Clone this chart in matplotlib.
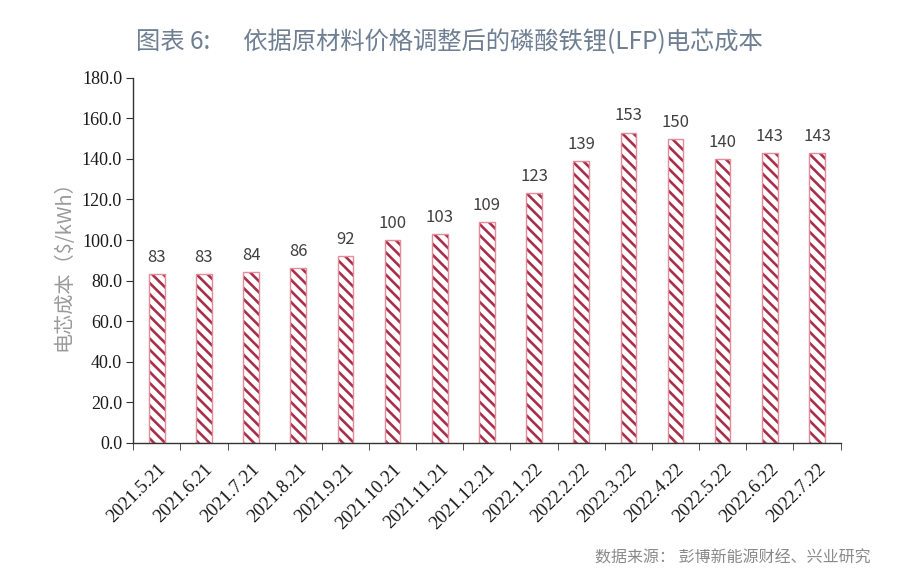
import matplotlib.pyplot as plt
import numpy as np

plt.rcParams['font.family'] = ['Noto Sans CJK SC', 'DejaVu Sans']
plt.rcParams['hatch.linewidth'] = 1.9

# data
dates = ['2021.5.21', '2021.6.21', '2021.7.21', '2021.8.21', '2021.9.21',
         '2021.10.21', '2021.11.21', '2021.12.21', '2022.1.22', '2022.2.22',
         '2022.3.22', '2022.4.22', '2022.5.22', '2022.6.22', '2022.7.22']
cost = [83, 83, 84, 86, 92, 100, 103, 109, 123, 139, 153, 150, 140, 143, 143]

stripe = '#a82f4a'
edge = '#e58c9a'
serif = ['Liberation Serif', 'DejaVu Serif']

fig = plt.figure(figsize=(9, 5.81), dpi=100)
ax = fig.add_axes([0.148, 0.238, 0.786, 0.628])

x = np.arange(len(dates))
# hatched fill, then outline on top
ax.bar(x, cost, width=0.33, color='white', edgecolor=stripe, linewidth=0, hatch='\\\\\\')
ax.bar(x, cost, width=0.33, fill=False, edgecolor=edge, linewidth=1.0)

for xi, v in zip(x, cost):
    ax.text(xi, v + 4, str(v), ha='center', va='bottom', fontsize=12, color='#404040')

ax.set_xlim(-0.5, len(dates) - 0.5)
ax.set_ylim(0, 180)
ax.set_yticks(np.arange(0, 181, 20))
ax.set_yticklabels(['%.1f' % t for t in np.arange(0, 181, 20)])
ax.set_xticks(x)
ax.set_xticklabels(dates, rotation=45, ha='right', rotation_mode='anchor')
ax.set_xticks(np.arange(-0.5, len(dates), 1), minor=True)
ax.tick_params(axis='x', which='major', length=0, pad=13)
ax.tick_params(axis='x', which='minor', length=5, direction='out', color='#333333')
ax.tick_params(axis='y', length=5, direction='out', color='#333333', pad=3)
for lab in ax.get_xticklabels():
    lab.set_fontfamily(serif)
    lab.set_fontsize(13.5)
    lab.set_color('#1a1a1a')
for lab in ax.get_yticklabels():
    lab.set_fontfamily(serif)
    lab.set_fontsize(13)
    lab.set_color('#1a1a1a')

for s in ['top', 'right']:
    ax.spines[s].set_visible(False)
for s in ['left', 'bottom']:
    ax.spines[s].set_color('#333333')
    ax.spines[s].set_linewidth(1.0)

ax.set_ylabel('电芯成本（$/kWh）', fontsize=14.5, color='#9a9a9a', labelpad=5)

fig.text(0.499, 0.928, '图表 6:      依据原材料价格调整后的磷酸铁锂(LFP)电芯成本',
         ha='center', va='center', fontsize=17.5, color='#6f7f93')
fig.text(0.967, 0.04, '数据来源： 彭博新能源财经、兴业研究',
         ha='right', va='center', fontsize=11.5, color='#8a8a8a')

fig.savefig('out.png', dpi=100)
